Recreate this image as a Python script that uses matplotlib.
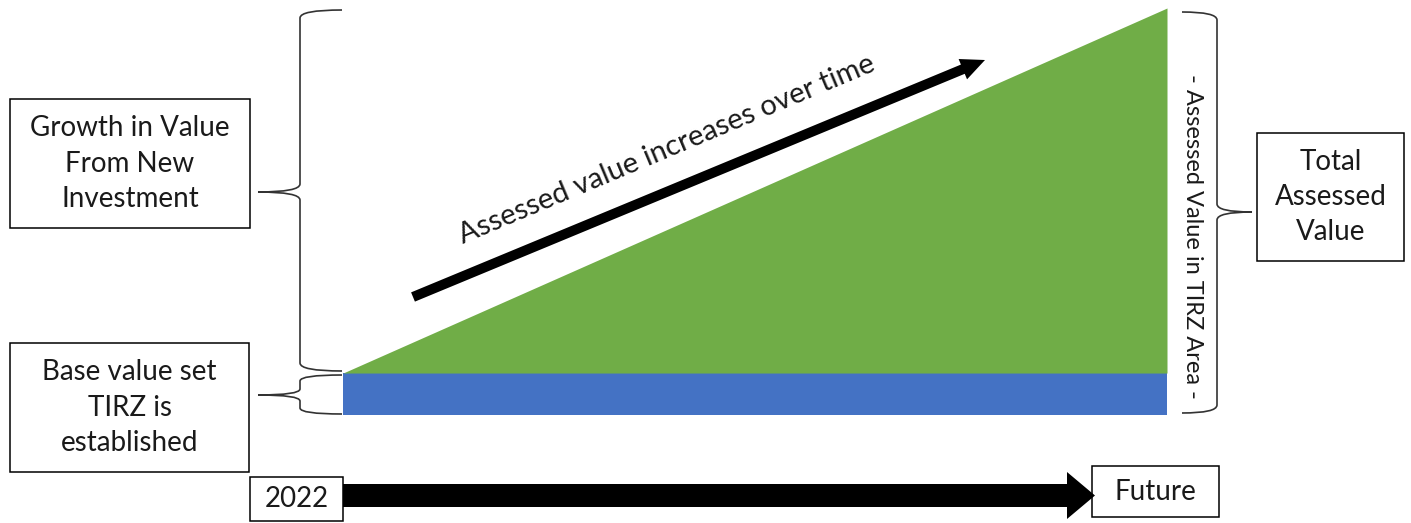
import matplotlib
matplotlib.use("Agg")
import matplotlib.pyplot as plt
from matplotlib.patches import Rectangle, FancyArrow, PathPatch
from matplotlib.path import Path

plt.rcParams['font.family'] = ['Lato', 'DejaVu Sans']

# data: assessed value over time (base value frozen when TIRZ is set up)
time = [0.0, 1.0]
base_value = [1.0, 1.0]
total_value = [1.0, 9.7]

box_texts = {
    'growth': 'Growth in Value\nFrom New\nInvestment',
    'base': 'Base value set\nTIRZ is\nestablished',
    'total': 'Total\nAssessed\nValue',
    'start': '2022',
    'end': 'Future',
}
trend_label = 'Assessed value increases over time'
side_label = '- Assessed Value in TIRZ Area -'

blue = '#4472C4'
green = '#70AD47'

W, H = 1411, 523
fig = plt.figure(figsize=(W / 100, H / 100), dpi=100)

# overlay axes in pixel units for the annotation shapes
ax0 = fig.add_axes([0, 0, 1, 1])
ax0.set_xlim(0, W)
ax0.set_ylim(H, 0)
ax0.axis('off')

# chart area
ax = fig.add_axes([343 / W, (H - 415) / H, (1167 - 343) / W, (415 - 8) / H])
ax.fill_between(time, 0, base_value, color=blue, lw=0)
ax.fill_between(time, base_value, total_value, color=green, lw=0)
ax.set_xlim(0, 1)
ax.set_ylim(0, max(total_value))
ax.axis('off')


def brace(x_end, x_spine, y0, y1, x_tip, y_tip, r=8):
    verts = [
        (x_end, y0), (x_spine, y0), (x_spine, y0 + r),
        (x_spine, y_tip - r),
        (x_spine, y_tip), (x_tip, y_tip),
        (x_spine, y_tip), (x_spine, y_tip + r),
        (x_spine, y1 - r),
        (x_spine, y1), (x_end, y1),
    ]
    codes = [Path.MOVETO, Path.CURVE3, Path.CURVE3, Path.LINETO,
             Path.CURVE3, Path.CURVE3, Path.CURVE3, Path.CURVE3,
             Path.LINETO, Path.CURVE3, Path.CURVE3]
    ax0.add_patch(PathPatch(Path(verts, codes), fill=False, ec='#333333', lw=1.2))


brace(342, 300, 10, 371, 258, 192)
brace(342, 300, 375, 414, 258, 395, r=6)
brace(1182, 1217, 12, 413, 1252, 212)


def box(x0, y0, x1, y1, text, fs=20):
    ax0.add_patch(Rectangle((x0, y0), x1 - x0, y1 - y0, fill=False, ec='black', lw=1.1))
    ax0.text((x0 + x1) / 2, (y0 + y1) / 2, text, ha='center', va='center',
             fontsize=fs, linespacing=1.45, color='#1a1a1a')


box(10, 99, 250, 228, box_texts['growth'])
box(10, 343, 249, 472, box_texts['base'])
box(1257, 133, 1404, 261, box_texts['total'])

# timeline arrow
ax0.add_patch(FancyArrow(343, 495.5, 752, 0, width=23, head_width=47, head_length=28,
                         length_includes_head=True, color='black', lw=0))
box(250, 477, 343, 521, box_texts['start'])
box(1092, 466, 1219, 517, box_texts['end'])

# trend arrow
ax0.add_patch(FancyArrow(413, 297, 572, -237, width=10, head_width=22, head_length=24,
                         length_includes_head=True, color='black', lw=0))
ax0.text(667, 150, trend_label, rotation=22.8, ha='center', va='center',
         fontsize=21, color='#1a1a1a', rotation_mode='anchor')

ax0.text(1192, 236, side_label, rotation=-90, ha='center', va='center',
         fontsize=17, color='#1a1a1a', rotation_mode='anchor')

fig.savefig('out.png', dpi=100)
